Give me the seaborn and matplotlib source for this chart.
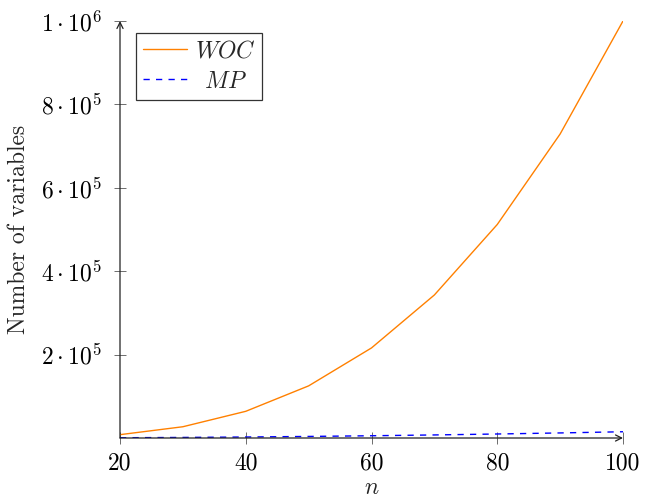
import matplotlib
matplotlib.use("Agg")
import matplotlib.pyplot as plt
import seaborn as sns
import pandas as pd

n_values = [20, 30, 40, 50, 60, 70, 80, 90, 100]
woc_values = [8000, 27000, 64000, 125000, 216000, 343000, 512000, 729000, 1000000]
mp_values = [600, 1350, 2400, 3750, 5400, 7350, 9600, 12150, 15000]
series_labels = ["$WOC$", "$\\;\\,MP$"]
ytick_values = [200000, 400000, 600000, 800000, 1000000]
ytick_labels = ["$2\\cdot10^{5}$", "$4\\cdot10^{5}$", "$6\\cdot10^{5}$", "$8\\cdot10^{5}$", "$1\\cdot10^{6}$"]
xtick_values = [20, 40, 60, 80, 100]

sns.set_style("white")
plt.rcParams["font.family"] = ["cmr10", "DejaVu Serif"]
plt.rcParams["mathtext.fontset"] = "cm"
plt.rcParams["axes.formatter.use_mathtext"] = True

FS = 17

df = pd.DataFrame({
    "n": n_values * 2,
    "value": woc_values + mp_values,
    "series": [series_labels[0]] * len(n_values) + [series_labels[1]] * len(n_values),
})

fig = plt.figure(figsize=(6.55, 4.98), dpi=100)
ax = fig.add_axes([120 / 655, 1 - 438 / 498, (623 - 120) / 655, (438 - 21) / 498])

sns.lineplot(data=df, x="n", y="value", hue="series", style="series",
             palette={series_labels[0]: "#FF8000", series_labels[1]: "#0000FF"},
             dashes={series_labels[0]: "", series_labels[1]: (4.5, 4.5)},
             linewidth=1.0, ax=ax, legend=True)

ax.set_xlim(20, 100)
ax.set_ylim(0, 1000000)
ax.set_xticks(xtick_values)
ax.set_xticklabels([str(v) for v in xtick_values])
ax.set_yticks(ytick_values)
ax.set_yticklabels(ytick_labels)

for s in ax.spines.values():
    s.set_visible(False)

ax.annotate("", xy=(1.0, 0), xytext=(0, 0), xycoords="axes fraction",
            arrowprops=dict(arrowstyle="->", color="#222222", lw=0.9,
                            shrinkA=0, shrinkB=0, mutation_scale=11))
ax.annotate("", xy=(0, 1.0), xytext=(0, 0), xycoords="axes fraction",
            arrowprops=dict(arrowstyle="->", color="#222222", lw=0.9,
                            shrinkA=0, shrinkB=0, mutation_scale=11))

ax.tick_params(axis="both", direction="inout", length=8, width=0.6, color="#555555",
               labelsize=FS, colors="black", left=True, bottom=True)
ax.tick_params(axis="x", pad=6)
ax.tick_params(axis="y", pad=9)

ax.set_xlabel("$n$", fontsize=FS, labelpad=2)
ax.set_ylabel("Number of variables", fontsize=FS, labelpad=8)

leg = ax.legend(loc="upper left", bbox_to_anchor=(0.032, 0.971), borderaxespad=0,
                frameon=True, fancybox=False, edgecolor="black", fontsize=FS,
                handlelength=1.85, borderpad=0.3, labelspacing=0.35, handletextpad=0.35)
leg.get_frame().set_linewidth(0.9)
leg.set_title(None)

fig.savefig("out.png", dpi=100)
